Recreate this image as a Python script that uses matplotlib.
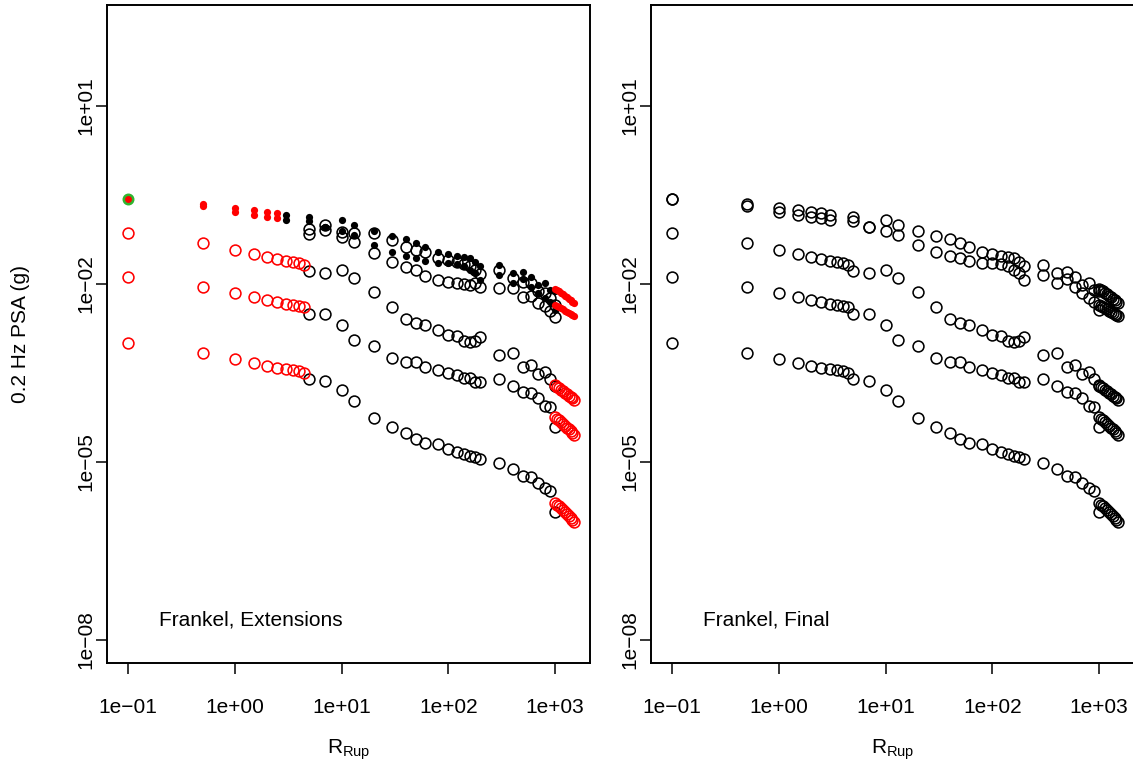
import matplotlib
matplotlib.use("Agg")
import matplotlib.pyplot as plt
import numpy as np

plt.rcParams['font.family'] = ['Liberation Sans', 'DejaVu Sans']

# rupture distances (km)
dist_near = [0.1, 0.5, 1, 1.5, 2, 2.5, 3, 3.5, 4, 4.5]
dist_top_near = [0.1, 0.5, 1, 1.5, 2, 2.5, 3]
dist_main = [5, 7, 10, 13, 20, 30, 40, 50, 60, 80, 100, 120, 140, 160, 180, 200,
             300, 400, 500, 600, 700, 800, 900, 1000]
dist_tail = [1000, 1050, 1100, 1150, 1200, 1250, 1300, 1350, 1400, 1450, 1500]

# log10 PSA (g)
t1_near = [-0.567, -0.652, -0.711, -0.753, -0.781, -0.798, -0.829]
t1_main = [-0.871, -1.048, -0.921, -1.006, -1.102, -1.186, -1.247, -1.304, -1.371, -1.456,
           -1.494, -1.520, -1.545, -1.562, -1.629, -1.697, -1.680, -1.820, -1.793, -1.877,
           -2.017, -1.988, -2.101, -2.118]
t1_tail = [-2.08, -2.10, -2.12, -2.15, -2.17, -2.20, -2.22, -2.25, -2.27, -2.30, -2.32]

t2_near = [-0.567, -0.685, -0.781, -0.837, -0.866, -0.893, -0.921]
t2_main = [-0.933, -1.048, -1.102, -1.174, -1.343, -1.466, -1.528, -1.567, -1.607, -1.651,
           -1.646, -1.663, -1.697, -1.756, -1.820, -1.933, -1.848, -1.988, -1.921, -2.046,
           -2.157, -2.241, -2.298, -2.438]
t2_tail = [-2.35, -2.37, -2.39, -2.41, -2.43, -2.45, -2.47, -2.49, -2.51, -2.53, -2.54]

o1_main = [-1.073, -1.006, -1.119, -1.140, -1.135, -1.258, -1.371, -1.427, -1.456, -1.567,
           -1.595, -1.629, -1.663, -1.697, -1.764, -1.831, -1.764, -1.899, -1.966, -1.983,
           -2.118, -2.152, -2.236, -2.354]
o2_main = [-1.157, -1.090, -1.203, -1.287, -1.483, -1.624, -1.708, -1.764, -1.865, -1.933,
           -1.961, -1.983, -2.000, -2.017, -1.983, -2.051, -2.067, -2.067, -2.219, -2.202,
           -2.320, -2.371, -2.455, -2.556]

c3_near = [-1.145, -1.314, -1.427, -1.494, -1.550, -1.584, -1.612, -1.634, -1.651, -1.680]
c3_main = [-1.776, -1.820, -1.764, -1.904, -2.130, -2.383, -2.590, -2.662, -2.691, -2.775,
           -2.860, -2.876, -2.956, -2.973, -2.956, -2.898, -3.197, -3.168, -3.394, -3.365,
           -3.517, -3.478, -3.606, -3.719]
c3_tail = [-3.70, -3.73, -3.75, -3.78, -3.80, -3.83, -3.85, -3.88, -3.90, -3.93, -3.96]

c4_near = [-1.877, -2.046, -2.157, -2.214, -2.270, -2.308, -2.337, -2.354, -2.371, -2.393]
c4_main = [-2.506, -2.511, -2.691, -2.944, -3.045, -3.252, -3.310, -3.310, -3.394, -3.450,
           -3.505, -3.534, -3.589, -3.589, -3.647, -3.647, -3.606, -3.719, -3.815, -3.842,
           -3.927, -4.056, -4.078, -4.405]
c4_tail = [-4.24, -4.27, -4.30, -4.33, -4.36, -4.39, -4.42, -4.45, -4.48, -4.51, -4.55]

c5_near = [-2.989, -3.158, -3.264, -3.326, -3.382, -3.416, -3.441, -3.458, -3.475, -3.500]
c5_main = [-3.601, -3.635, -3.787, -3.967, -4.264, -4.415, -4.516, -4.618, -4.685, -4.697,
           -4.786, -4.827, -4.865, -4.899, -4.921, -4.955, -5.022, -5.118, -5.236, -5.258,
           -5.349, -5.443, -5.484, -5.838]
c5_tail = [-5.69, -5.72, -5.75, -5.78, -5.81, -5.85, -5.88, -5.91, -5.94, -5.97, -6.01]

xticks = [0.1, 1, 10, 100, 1000]
xtick_labels = ["1e\u221201", "1e+00", "1e+01", "1e+02", "1e+03"]
yticks = [1e-8, 1e-5, 1e-2, 1e1]
ytick_labels = ["1e\u221208", "1e\u221205", "1e\u221202", "1e+01"]

FS = 15
OPEN = dict(linestyle='none', marker='o', markersize=7.8, markerfacecolor='none',
            markeredgewidth=1.15)
FILLED = dict(linestyle='none', marker='o', markersize=5.2, markeredgewidth=0)


def g(v):
    return 10 ** np.array(v)


def setup(ax, label):
    ax.set_xscale('log')
    ax.set_yscale('log')
    ax.set_xlim(10 ** -1.197, 10 ** 3.328)
    ax.set_ylim(10 ** -8.388, 10 ** 2.702)
    ax.set_xticks(xticks)
    ax.set_xticklabels(xtick_labels)
    ax.set_yticks(yticks)
    ax.set_yticklabels(ytick_labels, rotation=90, va='center')
    ax.minorticks_off()
    ax.tick_params(direction='out', length=8, width=1.1, labelsize=FS)
    ax.tick_params(axis='x', pad=17)
    ax.tick_params(axis='y', pad=0.5)
    for s in ax.spines.values():
        s.set_linewidth(1.4)
    ax.set_xlabel("R$_{\\mathregular{Rup}}$", fontsize=FS)
    ax.xaxis.set_label_coords(0.5, -0.113)
    ax.text(0.108, 0.065, label, transform=ax.transAxes, fontsize=FS, va='center')


fig = plt.figure(figsize=(11.33, 7.65), dpi=100)
ax1 = fig.add_axes([107 / 1133, 102 / 765, 483 / 1133, 658 / 765])
ax2 = fig.add_axes([651 / 1133, 102 / 765, 483 / 1133, 658 / 765])

# left panel: original table (black) and extensions (red)
for v in [o1_main, o2_main, c3_main, c4_main, c5_main]:
    ax1.plot(dist_main, g(v), color='black', **OPEN)
for near, tail in [(c3_near, c3_tail), (c4_near, c4_tail), (c5_near, c5_tail)]:
    ax1.plot(dist_near, g(near), color='red', **OPEN)
    ax1.plot(dist_tail, g(tail), color='red', **OPEN)
for near, main, tail in [(t1_near, t1_main, t1_tail), (t2_near, t2_main, t2_tail)]:
    ax1.plot([dist_top_near[-1]] + dist_main, g([near[-1]] + main), color='black', **FILLED)
    ax1.plot(dist_top_near[1:-1], g(near[1:-1]), color='red', **FILLED)
    ax1.plot(dist_tail, g(tail), color='red', **FILLED)
ax1.plot(dist_top_near[0], g(t1_near[0]), linestyle='none', marker='o', markersize=6.8,
         markerfacecolor='red', markeredgecolor='#2fb52f', markeredgewidth=1.8)
setup(ax1, "Frankel, Extensions")
ax1.set_ylabel("0.2 Hz PSA (g)", fontsize=FS)
ax1.yaxis.set_label_coords(-0.16, 0.5)

# right panel: final table
for near, main, tail in [(t1_near, t1_main, t1_tail), (t2_near, t2_main, t2_tail)]:
    ax2.plot(dist_top_near + dist_main + dist_tail, g(near + main + tail), color='black', **OPEN)
for near, main, tail in [(c3_near, c3_main, c3_tail), (c4_near, c4_main, c4_tail),
                         (c5_near, c5_main, c5_tail)]:
    ax2.plot(dist_near + dist_main + dist_tail, g(near + main + tail), color='black', **OPEN)
setup(ax2, "Frankel, Final")

fig.savefig("out.png", dpi=100)
